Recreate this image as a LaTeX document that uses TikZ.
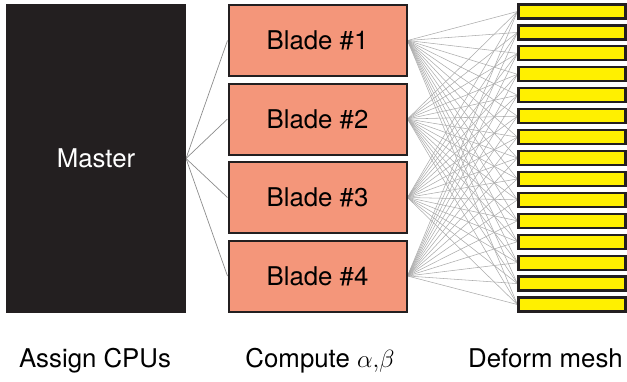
\documentclass[tikz,border=0pt]{standalone}
\usepackage{fontspec}
\setmainfont{TeX Gyre Heros}
\usetikzlibrary{backgrounds}
\definecolor{darkfill}{HTML}{231F20}
\definecolor{salmon}{HTML}{F4967A}
\definecolor{baryellow}{HTML}{FFF000}
\begin{document}
\begin{tikzpicture}[x=1pt,y=-1pt,
  bigtext/.style={font=\fontsize{25.8}{30}\selectfont},
  masterbox/.style={draw=darkfill,fill=darkfill,line width=1pt,minimum width=179pt,minimum height=308pt,inner sep=0pt,text=white,bigtext},
  bladebox/.style={draw=darkfill,fill=salmon,line width=2pt,minimum width=178pt,minimum height=71pt,inner sep=0pt,bigtext},
  meshbar/.style={draw=darkfill,fill=baryellow,line width=2.2pt,minimum width=107pt,minimum height=14pt,inner sep=0pt},
  masterlink/.style={draw=gray!90,line width=0.7pt},
  meshlink/.style={draw=gray!65,line width=0.55pt},
  caption/.style={bigtext,anchor=base}]
\useasboundingbox (0,0) rectangle (627,381);
\node[masterbox] (master) at (96,158.5) {\raisebox{-3pt}{Master}};
\foreach \i/\yc in {1/40.5,2/119,3/197.5,4/276}{
  \node[bladebox] (b\i) at (317.5,\yc) {Blade \#\i};
}
\foreach \k in {0,...,14}{
  \node[meshbar] (m\k) at (572,{11.5+20.93*\k}) {};
}
\begin{pgfonlayer}{background}
\foreach \i in {1,...,4}{
  \draw[masterlink] (master.east) -- (b\i.west);
  \foreach \k in {0,...,14}{
    \draw[meshlink] (b\i.east) -- (m\k.west);
  }
}
\end{pgfonlayer}
\node[caption] (c1) at (95,367) {Assign CPUs};
\node[caption] (c2) at (320,367) {Compute $\alpha{,}\beta$};
\node[caption] (c3) at (545.5,367) {Deform mesh};
\end{tikzpicture}
\end{document}
